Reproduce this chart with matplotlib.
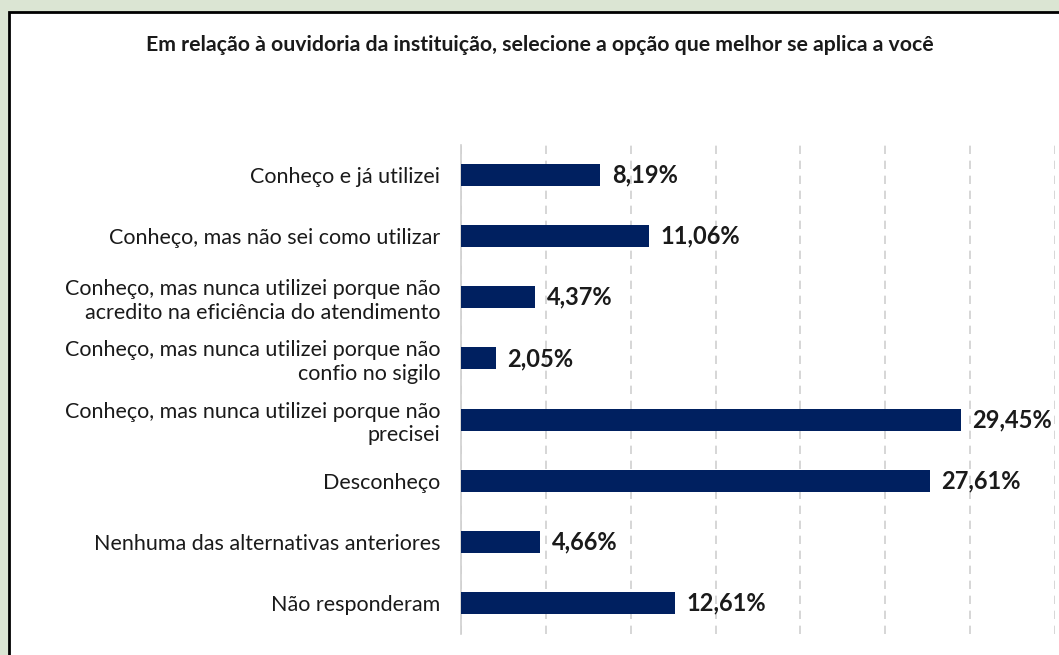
import matplotlib.pyplot as plt
from matplotlib.patches import Rectangle

categorias = [
    "Conheço e já utilizei",
    "Conheço, mas não sei como utilizar",
    "Conheço, mas nunca utilizei porque não\nacredito na eficiência do atendimento",
    "Conheço, mas nunca utilizei porque não\nconfio no sigilo",
    "Conheço, mas nunca utilizei porque não\nprecisei",
    "Desconheço",
    "Nenhuma das alternativas anteriores",
    "Não responderam",
]
valores = [8.19, 11.06, 4.37, 2.05, 29.45, 27.61, 4.66, 12.61]
titulo = "Em relação à ouvidoria da instituição, selecione a opção que melhor se aplica a você"

plt.rcParams['font.family'] = ['Lato', 'DejaVu Sans']

W, H = 1059, 655
fig = plt.figure(figsize=(W / 100, H / 100), dpi=100, facecolor='#dbe5d3')

# moldura branca do grafico
fig.patches.append(Rectangle((9 / W, -0.1), 1.2, 1.1 - 12 / H,
                             transform=fig.transFigure, facecolor='white',
                             edgecolor='black', linewidth=2, zorder=-5))

ax = fig.add_axes([461 / W, 1 - 633.5 / H, (1055 - 461) / W, (633.5 - 144.5) / H])
ax.set_facecolor('none')

y = list(range(len(categorias)))
ax.barh(y, valores, height=0.36, color='#002060', zorder=3)
ax.set_ylim(len(categorias) - 0.5, -0.5)
ax.set_xlim(0, 35)
ax.set_xticks(range(0, 36, 5))
ax.xaxis.grid(True, color='#d0d0d0', linestyle=(0, (5, 4)), linewidth=1.2, zorder=0)
ax.tick_params(axis='x', length=0, labelbottom=False)
ax.tick_params(axis='y', length=0, pad=15, labelsize=15.5)
ax.set_yticks(y)
ax.set_yticklabels(categorias, color='#1a1a1a')
for lbl in ax.get_yticklabels():
    lbl.set_multialignment('right')
for s in ['top', 'right', 'bottom']:
    ax.spines[s].set_visible(False)
ax.spines['left'].set_color('#d0d0d0')
ax.spines['left'].set_linewidth(1.2)

for yi, v in zip(y, valores):
    ax.annotate(f"{v:.2f}%".replace('.', ','), (v, yi), xytext=(8.5, 0),
                textcoords='offset points', va='center', ha='left',
                fontsize=17, fontweight='bold', color='#1a1a1a', zorder=4)

fig.text(540 / W, 1 - 45 / H, titulo, ha='center', va='center',
         fontsize=15.3, fontweight='bold', color='#1a1a1a')

fig.savefig('out.png', dpi=100, facecolor=fig.get_facecolor())
